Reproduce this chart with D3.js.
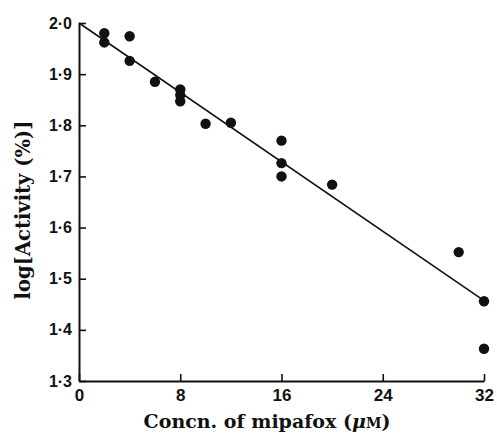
<!DOCTYPE html>
<head>
  <meta charset="utf-8">
  <title>log Activity vs mipafox</title>
  <style>
    body { margin: 0; background: #fff; }
  </style>
  <script src="https://cdn.jsdelivr.net/npm/d3@7"></script>
</head>
<body>
  <script>
    // data
    var conc    = [2, 2, 4, 4, 6, 8, 8, 8, 10, 12, 16, 16, 16, 20, 30, 32, 32];
    var logAct  = [1.980, 1.962, 1.974, 1.926, 1.885, 1.870, 1.859, 1.847, 1.803, 1.805,
                   1.770, 1.726, 1.700, 1.684, 1.552, 1.456, 1.363];
    // fitted line end points
    var fitX = [0, 32];
    var fitY = [2.0, 1.457];
    var xTicks = [0, 8, 16, 24, 32];
    var yTicks = [1.3, 1.4, 1.5, 1.6, 1.7, 1.8, 1.9, 2.0];

    var width = 497, height = 435;
    var margin = {top: 23, right: 13, bottom: 54, left: 79};

    var svg = d3.select("body").append("svg")
      .attr("width", width)
      .attr("height", height);

    var x = d3.scaleLinear().domain([0, 32]).range([margin.left, width - margin.right]);
    var y = d3.scaleLinear().domain([1.3, 2.0]).range([height - margin.bottom, margin.top]);

    var fmt = function (d) { return d3.format(".1f")(d).replace(".", "\u00b7"); };

    // x axis, ticks pointing up into the plot
    var gx = svg.append("g")
      .attr("transform", "translate(0," + y(1.3) + ")")
      .call(d3.axisBottom(x).tickValues(xTicks).tickSizeInner(-7).tickSizeOuter(0).tickPadding(8).tickFormat(d3.format("d")));

    // y axis, ticks pointing right
    var gy = svg.append("g")
      .attr("transform", "translate(" + x(0) + ",0)")
      .call(d3.axisLeft(y).tickValues(yTicks).tickSizeInner(-7).tickSizeOuter(0).tickPadding(7).tickFormat(fmt));

    [gx, gy].forEach(function (g) {
      g.select(".domain").attr("stroke", "#111").attr("stroke-width", 2);
      g.selectAll(".tick line").attr("stroke", "#111").attr("stroke-width", 1.6);
      g.selectAll(".tick text")
        .attr("fill", "#111")
        .style("font-family", "'Liberation Sans', Arial, sans-serif")
        .style("font-weight", "bold");
    });
    gx.selectAll(".tick text").style("font-size", "17px");
    gy.selectAll(".tick text").style("font-size", "16px");

    // fitted line
    svg.append("path")
      .datum(d3.zip(fitX, fitY))
      .attr("fill", "none")
      .attr("stroke", "#111")
      .attr("stroke-width", 1.6)
      .attr("d", d3.line().x(d => x(d[0])).y(d => y(d[1])));

    // points
    svg.append("g")
      .selectAll("circle")
      .data(d3.zip(conc, logAct))
      .enter()
      .append("circle")
        .attr("cx", d => x(d[0]))
        .attr("cy", d => y(d[1]))
        .attr("r", 5.2)
        .attr("fill", "#111");

    // axis titles
    var xt = svg.append("text")
      .attr("x", 267)
      .attr("y", 428)
      .attr("text-anchor", "middle")
      .style("font-family", "'DejaVu Serif', serif")
      .style("font-weight", "bold")
      .style("font-size", "19px")
      .attr("fill", "#111");
    xt.append("tspan").text("Concn. of mipafox (");
    xt.append("tspan").style("font-style", "italic").text("\u03bc");
    xt.append("tspan").style("font-size", "14px").text("M");
    xt.append("tspan").text(")");

    svg.append("text")
      .attr("transform", "translate(30,210) rotate(-90)")
      .attr("text-anchor", "middle")
      .style("font-family", "'DejaVu Serif', serif")
      .style("font-weight", "bold")
      .style("font-size", "19.5px")
      .attr("fill", "#111")
      .text("log[Activity (%)]");
  </script>
</body>
